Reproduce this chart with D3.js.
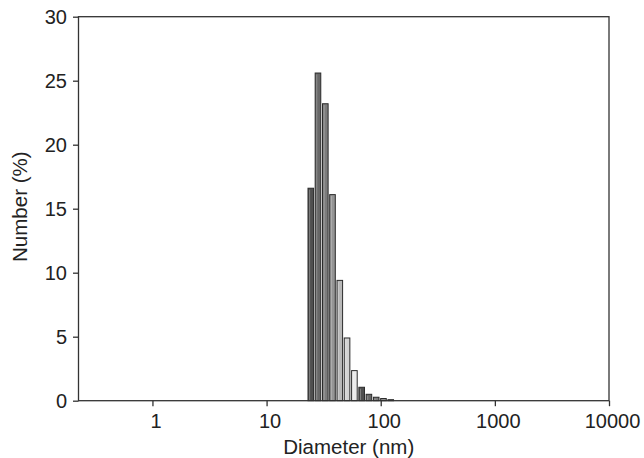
<!DOCTYPE html>
<html>
<head>
<meta charset="utf-8">
<script src="https://cdn.jsdelivr.net/npm/d3@7"></script>
<style>
  body { margin: 0; background: #fff; }
  svg text { font-family: "Liberation Sans", Arial, sans-serif; fill: #222; }
</style>
</head>
<body>
<svg id="chart" width="644" height="458"></svg>
<script>
// size classes (nm) and number distribution (%)
var diameters = [24.4, 28.2, 32.7, 37.8, 43.8, 50.7, 58.8, 68.1, 78.8, 91.3, 105.7, 122.4];
var numbers   = [16.6, 25.6, 23.2, 16.1, 9.4, 4.9, 2.35, 1.05, 0.5, 0.27, 0.17, 0.08];
var shades    = ["#4f4f4f", "#676767", "#7c7c7c", "#959595", "#b8b8b8", "#d2d2d2", "#ececec"];
var xTicks    = [1, 10, 100, 1000, 10000];
var yTicks    = [0, 5, 10, 15, 20, 25, 30];

var svg = d3.select("#chart"),
    m = {left: 78.5, right: 35, top: 16.7, bottom: 57.3},
    W = 644, H = 458,
    innerW = W - m.left - m.right,
    innerH = H - m.top - m.bottom;

var g = svg.append("g").attr("transform", "translate(" + m.left + "," + m.top + ")");

var x = d3.scaleLog().domain([0.225, 10000]).range([0, innerW]);
var y = d3.scaleLinear().domain([0, 30]).range([innerH, 0]);

// bars
var pitch = x(diameters[1]) - x(diameters[0]),
    bw = pitch * 0.78;

var bars = g.selectAll(".bar").data(diameters).enter().append("g").attr("class", "bar");

bars.append("rect")
  .attr("x", function(d) { return x(d) - bw / 2; })
  .attr("y", function(d, i) { return y(numbers[i]); })
  .attr("width", bw)
  .attr("height", function(d, i) { return innerH - y(numbers[i]); })
  .attr("fill", function(d, i) { return shades[i % shades.length]; })
  .attr("stroke", "#2a2a2a")
  .attr("stroke-width", 1);

// little inner highlight, like the original 3d-ish bars
bars.append("line")
  .attr("x1", function(d) { return x(d) - bw / 2 + 1.6; })
  .attr("x2", function(d) { return x(d) - bw / 2 + 1.6; })
  .attr("y1", function(d, i) { return y(numbers[i]) + 1.5; })
  .attr("y2", innerH)
  .attr("stroke", "rgba(255,255,255,0.35)")
  .attr("stroke-width", 0.8)
  .style("display", function(d, i) { return innerH - y(numbers[i]) > 3 ? null : "none"; });

// frame
g.append("rect")
  .attr("x", 0).attr("y", 0)
  .attr("width", innerW).attr("height", innerH)
  .attr("fill", "none")
  .attr("stroke", "#333")
  .attr("stroke-width", 1.3);

// axes
var xAxis = g.append("g")
  .attr("transform", "translate(0," + innerH + ")")
  .call(d3.axisBottom(x).tickValues(xTicks).tickFormat(d3.format("d")).tickSize(5.5).tickPadding(8));

var yAxis = g.append("g")
  .call(d3.axisLeft(y).tickValues(yTicks).tickSize(5.5).tickPadding(6));

[xAxis, yAxis].forEach(function(a) {
  a.select(".domain").remove();
  a.selectAll("line").attr("stroke", "#333").attr("stroke-width", 1.3);
  a.selectAll("text").style("font-size", "20px").attr("fill", "#222");
});
xAxis.selectAll("text").attr("dx", 3);

// axis titles
svg.append("text")
  .attr("x", m.left + innerW / 2 + 5)
  .attr("y", 454)
  .attr("text-anchor", "middle")
  .style("font-size", "20.5px")
  .text("Diameter (nm)");

svg.append("text")
  .attr("transform", "translate(27," + (m.top + innerH / 2 - 2) + ") rotate(-90)")
  .attr("text-anchor", "middle")
  .style("font-size", "20.5px")
  .text("Number (%)");
</script>
</body>
</html>
